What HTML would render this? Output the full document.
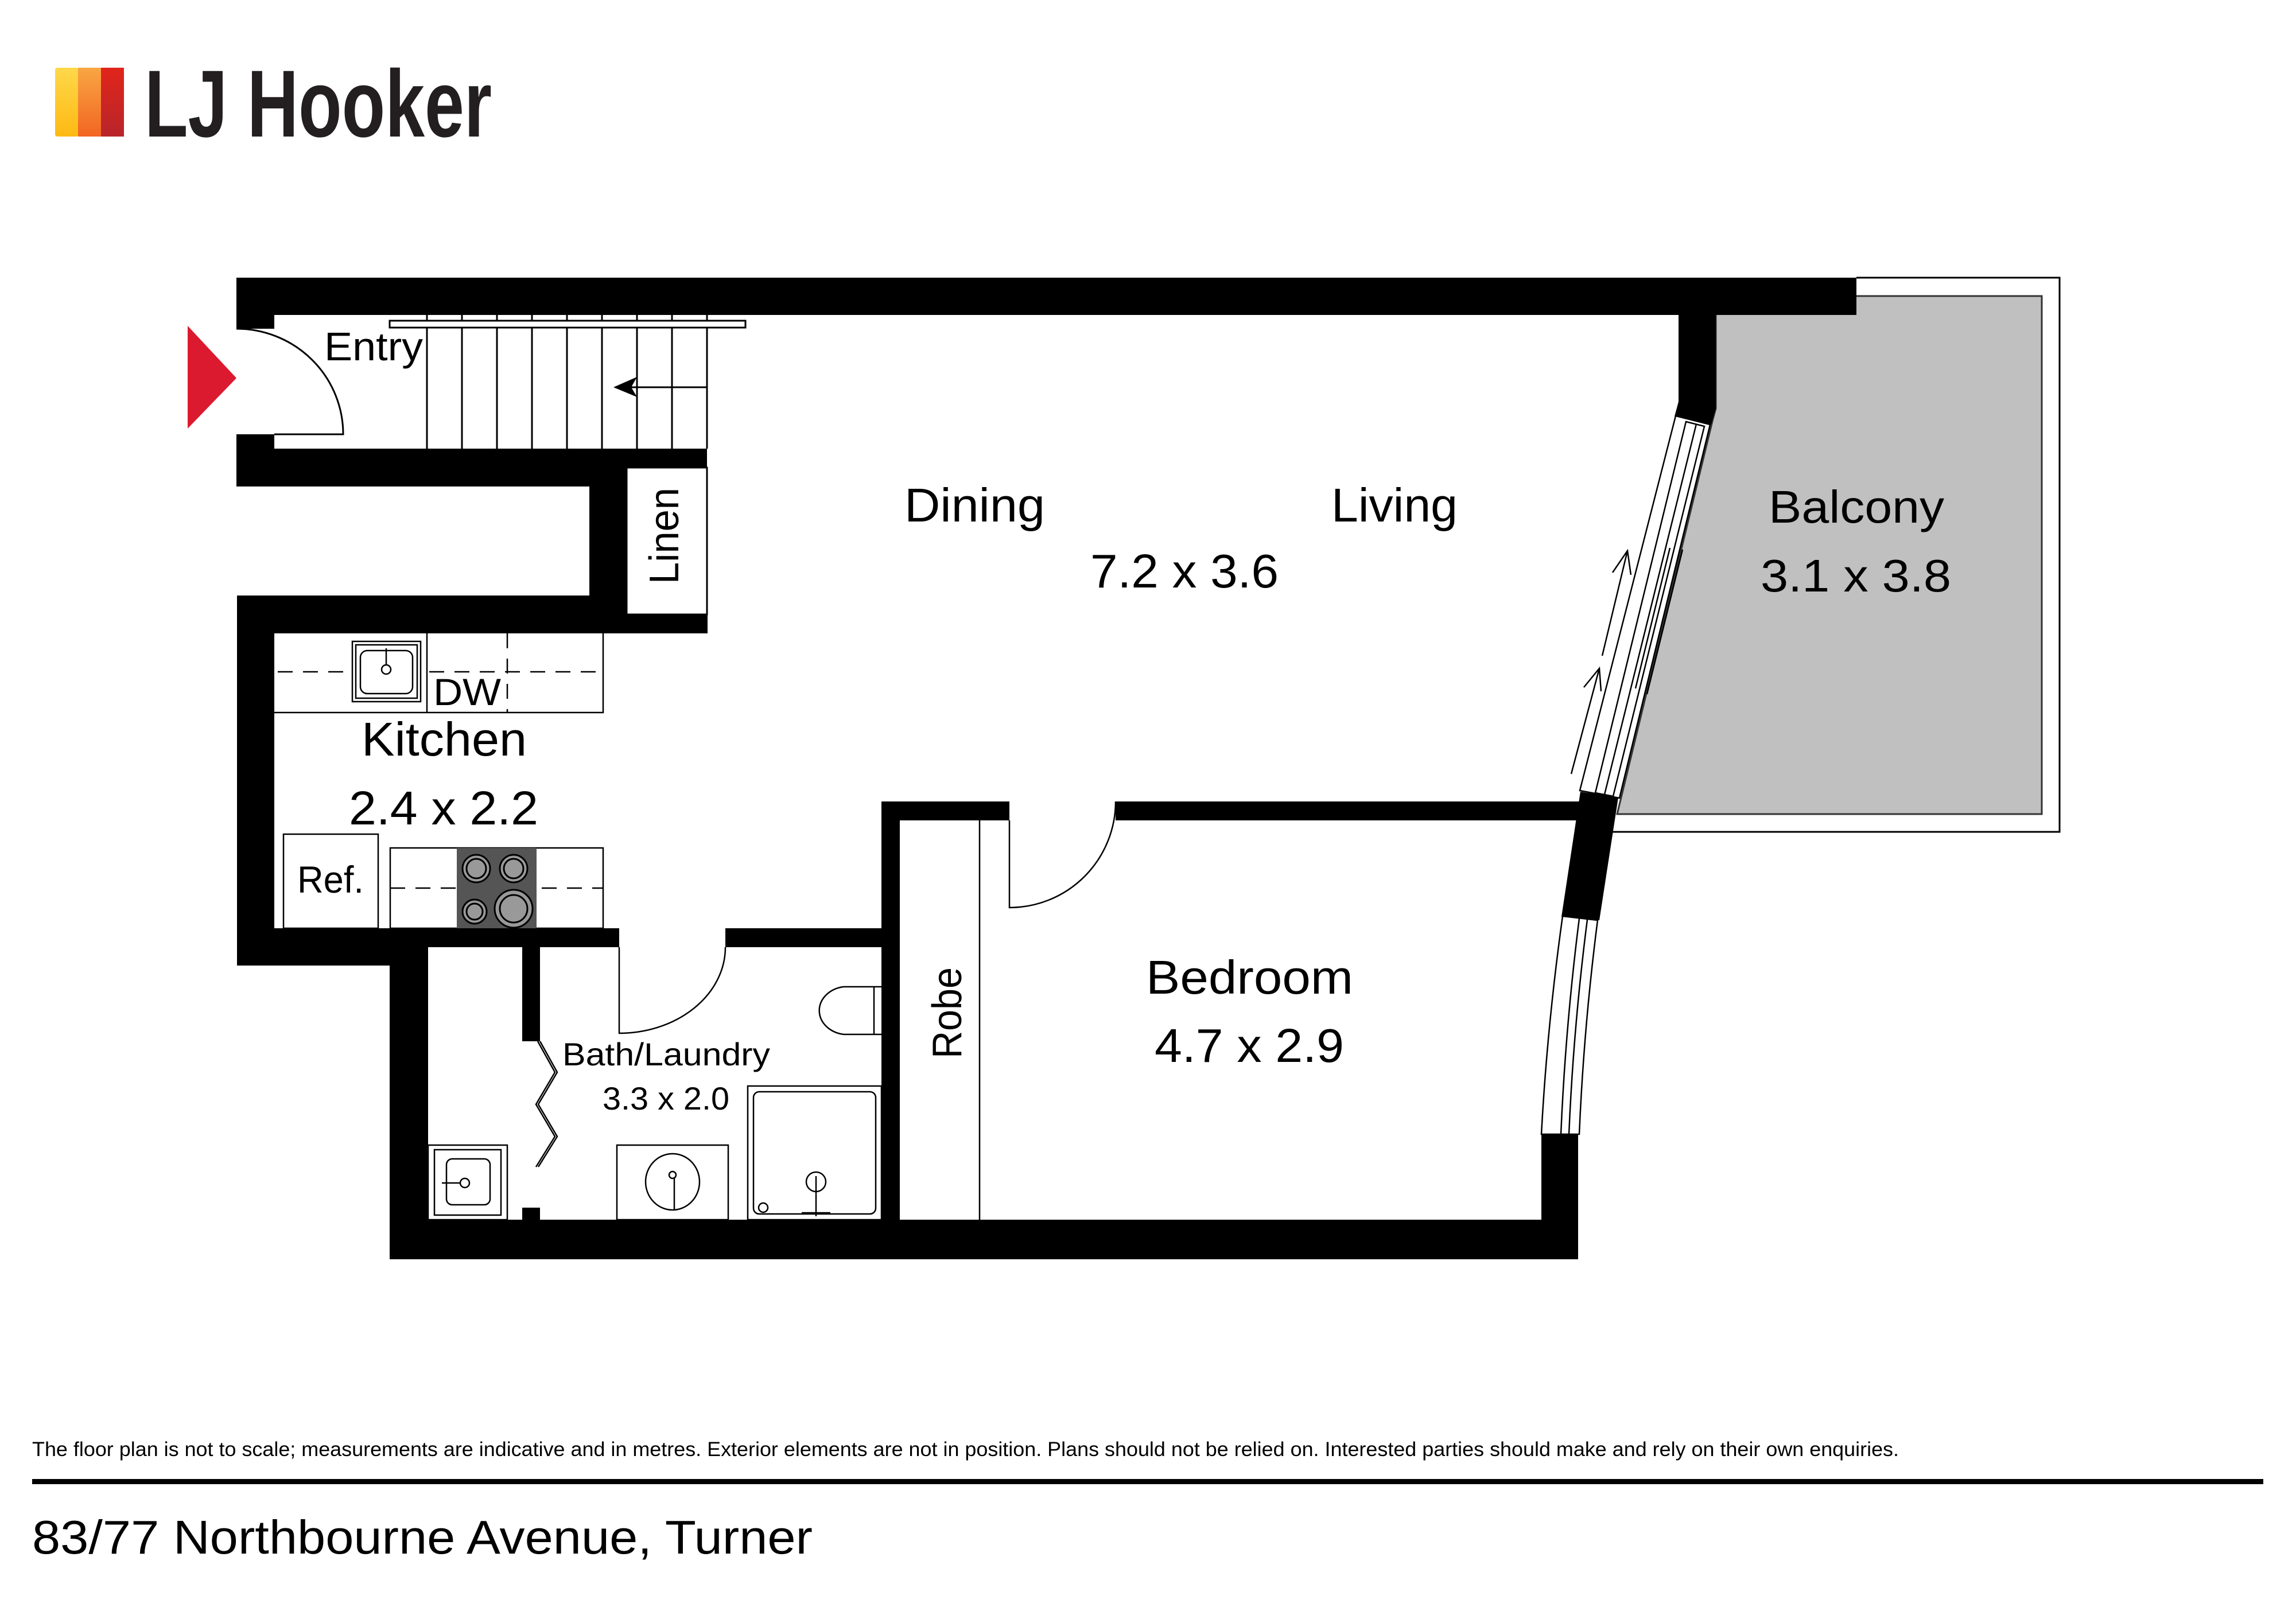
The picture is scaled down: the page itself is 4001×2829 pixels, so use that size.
<!DOCTYPE html>
<html><head><meta charset="utf-8"><style>
html,body{margin:0;padding:0;background:#fff;}
svg{display:block;}
text{font-family:"Liberation Sans",sans-serif;fill:#000;}
</style></head><body>
<svg width="4001" height="2829" viewBox="0 0 4001 2829" xmlns="http://www.w3.org/2000/svg">
<defs>
<linearGradient id="gy" x1="0" y1="0" x2="0" y2="1"><stop offset="0" stop-color="#ffd84a"/><stop offset="1" stop-color="#fdb913"/></linearGradient>
<linearGradient id="go" x1="0" y1="0" x2="0" y2="1"><stop offset="0" stop-color="#f9a643"/><stop offset="1" stop-color="#f26522"/></linearGradient>
<linearGradient id="gr" x1="0" y1="0" x2="0" y2="1"><stop offset="0" stop-color="#e1251b"/><stop offset="1" stop-color="#b8252a"/></linearGradient>
</defs>
<rect width="4001" height="2829" fill="#fff"/>

<!-- Logo -->
<rect x="96" y="118" width="41" height="120" fill="url(#gy)" rx="4"/>
<rect x="136" y="118" width="41" height="120" fill="url(#go)"/>
<rect x="176" y="118" width="40" height="120" fill="url(#gr)"/>
<text x="252" y="238" font-size="166" font-weight="bold" textLength="605" lengthAdjust="spacingAndGlyphs" style="fill:#231f20">LJ Hooker</text>

<!-- Balcony -->
<path d="M3235,484 H3589 V1450 H2810" fill="none" stroke="#000" stroke-width="3"/>
<polygon points="2990,516 3558,516 3558,1419 2818,1419 2985,730 2990,712" fill="#c0c0c0" stroke="#333" stroke-width="3"/>

<!-- Walls -->
<g fill="#000">
<rect x="412" y="484" width="2823" height="65"/>
<rect x="412" y="549" width="66" height="24"/>
<rect x="412" y="757" width="66" height="91"/>
<rect x="412" y="782" width="820" height="33"/>
<rect x="412" y="815" width="680" height="33"/>
<rect x="1027" y="815" width="65" height="289"/>
<rect x="413" y="1038" width="820" height="66"/>
<rect x="413" y="1038" width="65" height="645"/>
<rect x="413" y="1618" width="666" height="33"/>
<rect x="413" y="1651" width="333" height="32"/>
<rect x="679" y="1618" width="67" height="577"/>
<rect x="1264" y="1618" width="272" height="33"/>
<rect x="1536" y="1397" width="32" height="798"/>
<rect x="1536" y="1397" width="223" height="33"/>
<rect x="1944" y="1397" width="810" height="33"/>
<rect x="910" y="1651" width="31" height="164"/>
<rect x="910" y="2105" width="31" height="21"/>
<rect x="679" y="2126" width="2071" height="69"/>
<rect x="2686" y="1977" width="64" height="218"/>
<polygon points="2754,1380 2820,1390 2787,1604 2721,1598"/>
<rect x="2925" y="549" width="65" height="163"/>
<polygon points="2925,700 2990,700 2990,712 2982,740 2918,726"/>
</g>
<rect x="1092" y="815" width="140" height="256" fill="#fff" stroke="#000" stroke-width="3"/>

<!-- Entry triangle -->
<polygon points="327,568 412,659 327,747" fill="#dc1a2f"/>
<!-- Entry door -->
<path d="M412,573 A186,184 0 0 1 598,757 H478" fill="none" stroke="#000" stroke-width="3"/>

<!-- Stairs -->
<g stroke="#000" stroke-width="3" fill="none">
<line x1="744" y1="549" x2="744" y2="782"/><line x1="805" y1="549" x2="805" y2="782"/>
<line x1="866" y1="549" x2="866" y2="782"/><line x1="927" y1="549" x2="927" y2="782"/>
<line x1="988" y1="549" x2="988" y2="782"/><line x1="1049" y1="549" x2="1049" y2="782"/>
<line x1="1110" y1="549" x2="1110" y2="782"/><line x1="1171" y1="549" x2="1171" y2="782"/>
<line x1="1232" y1="549" x2="1232" y2="782"/>
<rect x="679" y="559" width="620" height="12" fill="#fff"/>
<line x1="1232" y1="675" x2="1085" y2="675"/>
</g>
<polygon points="1069,675 1110,657 1100,675 1110,692" fill="#000"/>

<!-- Kitchen counters -->
<g stroke="#000" stroke-width="2.5" fill="none">
<path d="M478,1242 H1051 V1104"/>
<line x1="744" y1="1104" x2="744" y2="1242"/>
<line x1="484" y1="1171" x2="1051" y2="1171" stroke-dasharray="26,18"/>
<line x1="884" y1="1104" x2="884" y2="1242" stroke-dasharray="26,18"/>
<rect x="614" y="1118" width="119" height="105" fill="#fff"/>
<rect x="620" y="1124" width="107" height="93" fill="#fff"/>
<rect x="628" y="1134" width="91" height="75" rx="12" fill="#fff"/>
<circle cx="673" cy="1167" r="8"/><line x1="673" y1="1130" x2="673" y2="1160"/>
<rect x="494" y="1454" width="165" height="164" fill="#fff"/>
<rect x="680" y="1478" width="371" height="140" fill="#fff"/>
<line x1="680" y1="1548" x2="1051" y2="1548" stroke-dasharray="26,18"/>
</g>
<rect x="796" y="1478" width="139" height="140" fill="#555"/>
<g fill="#999" stroke="#000" stroke-width="3">
<circle cx="830" cy="1514" r="24"/><circle cx="830" cy="1514" r="17"/>
<circle cx="895" cy="1514" r="24"/><circle cx="895" cy="1514" r="17"/>
<circle cx="827" cy="1589" r="21"/><circle cx="827" cy="1589" r="14"/>
<circle cx="895" cy="1584" r="33"/><circle cx="895" cy="1584" r="24"/>
</g>

<!-- Bath -->
<g stroke="#000" stroke-width="2.5" fill="none">
<path d="M1079,1651 V1801 A185,150 0 0 0 1264,1651"/>
<polyline points="941,1815 971,1869 938,1925 971,1981 938,2034"/>
<polyline points="937,1815 967,1869 934,1925 967,1981 934,2034"/>
<path d="M1536,1720 H1470 A50,42 0 0 0 1470,1803 H1536"/>
<line x1="1523" y1="1720" x2="1523" y2="1803"/>
<rect x="1303" y="1893" width="233" height="233" fill="#fff"/>
<rect x="1313" y="1903" width="213" height="213" rx="10"/>
<circle cx="1330" cy="2105" r="8"/>
<circle cx="1422" cy="2060" r="17"/>
<line x1="1422" y1="2050" x2="1422" y2="2120"/>
<line x1="1397" y1="2114" x2="1447" y2="2114"/>
<rect x="1075" y="1996" width="194" height="130"/>
<ellipse cx="1172" cy="2060" rx="47" ry="49"/>
<line x1="1175" y1="2052" x2="1175" y2="2108"/><circle cx="1172" cy="2048" r="6"/>
<rect x="746" y="1996" width="138" height="130"/>
<rect x="757" y="2004" width="116" height="114"/>
<rect x="778" y="2020" width="76" height="80" rx="10"/>
<circle cx="810" cy="2062" r="8"/><line x1="770" y1="2062" x2="803" y2="2062"/>
</g>

<!-- Robe -->
<g stroke="#000" stroke-width="2.5" fill="none">
<path d="M1568,1430 H1536"/>
<line x1="1707" y1="1430" x2="1707" y2="2126"/>
<path d="M1759,1430 V1582 A185,185 0 0 0 1944,1397"/>
</g>

<!-- Living sliding window -->
<g stroke="#000" stroke-width="2.5" fill="#fff">
<polygon points="2920,725 2980,740 2822,1391 2753,1378"/>
<polygon points="2938,735 2970,743 2811,1388 2780,1382" fill="none"/>
<line x1="2956" y1="739" x2="2796" y2="1385"/>
<line x1="2932" y1="958" x2="2870" y2="1210"/>
<line x1="2910" y1="955" x2="2850" y2="1200"/>
</g>
<g stroke="#000" stroke-width="2.5" fill="none">
<line x1="2738" y1="1349" x2="2787" y2="1165"/>
<polyline points="2760,1198 2787,1165 2790,1205"/>
<line x1="2792" y1="1143" x2="2836" y2="960"/>
<polyline points="2810,998 2836,960 2842,1002"/>
</g>

<!-- Bedroom window -->
<g stroke="#000" stroke-width="2.5" fill="#fff">
<path d="M2723,1597 L2784,1604 Q2760,1790 2752,1977 L2686,1977 Q2696,1790 2723,1597 Z"/>
<path d="M2752,1601 Q2728,1790 2720,1977" fill="none"/>
<path d="M2766,1603 Q2742,1790 2734,1977" fill="none"/>
</g>

<!-- Labels -->
<text x="565" y="628" font-size="70" textLength="172" lengthAdjust="spacingAndGlyphs">Entry</text>
<text x="1576" y="909" font-size="83" textLength="245" lengthAdjust="spacingAndGlyphs">Dining</text>
<text x="2320" y="909" font-size="83" textLength="220" lengthAdjust="spacingAndGlyphs">Living</text>
<text x="1900" y="1024" font-size="83" textLength="328" lengthAdjust="spacingAndGlyphs">7.2 x 3.6</text>
<text x="3082" y="911" font-size="80" textLength="306" lengthAdjust="spacingAndGlyphs">Balcony</text>
<text x="3068" y="1031" font-size="80" textLength="332" lengthAdjust="spacingAndGlyphs">3.1 x 3.8</text>
<text x="630" y="1317" font-size="83" textLength="288" lengthAdjust="spacingAndGlyphs">Kitchen</text>
<text x="608" y="1437" font-size="83" textLength="330" lengthAdjust="spacingAndGlyphs">2.4 x 2.2</text>
<text x="755" y="1229" font-size="66" textLength="118" lengthAdjust="spacingAndGlyphs">DW</text>
<text x="518" y="1556" font-size="66" textLength="116" lengthAdjust="spacingAndGlyphs">Ref.</text>
<text x="980" y="1857" font-size="56" textLength="362" lengthAdjust="spacingAndGlyphs">Bath/Laundry</text>
<text x="1050" y="1934" font-size="56" textLength="221" lengthAdjust="spacingAndGlyphs">3.3 x 2.0</text>
<text x="1997" y="1732" font-size="83" textLength="361" lengthAdjust="spacingAndGlyphs">Bedroom</text>
<text x="2012" y="1851" font-size="83" textLength="330" lengthAdjust="spacingAndGlyphs">4.7 x 2.9</text>
<text transform="translate(1182,1018) rotate(-90)" font-size="72" textLength="168" lengthAdjust="spacingAndGlyphs">Linen</text>
<text transform="translate(1675,1845) rotate(-90)" font-size="72" textLength="159" lengthAdjust="spacingAndGlyphs">Robe</text>

<!-- Footer -->
<text x="56" y="2538" font-size="35" textLength="3253" lengthAdjust="spacingAndGlyphs">The floor plan is not to scale; measurements are indicative and in metres. Exterior elements are not in position. Plans should not be relied on. Interested parties should make and rely on their own enquiries.</text>
<rect x="56" y="2578" width="3888" height="9" fill="#000"/>
<text x="56" y="2708" font-size="83" textLength="1360" lengthAdjust="spacingAndGlyphs">83/77 Northbourne Avenue, Turner</text>
</svg>
</body></html>
